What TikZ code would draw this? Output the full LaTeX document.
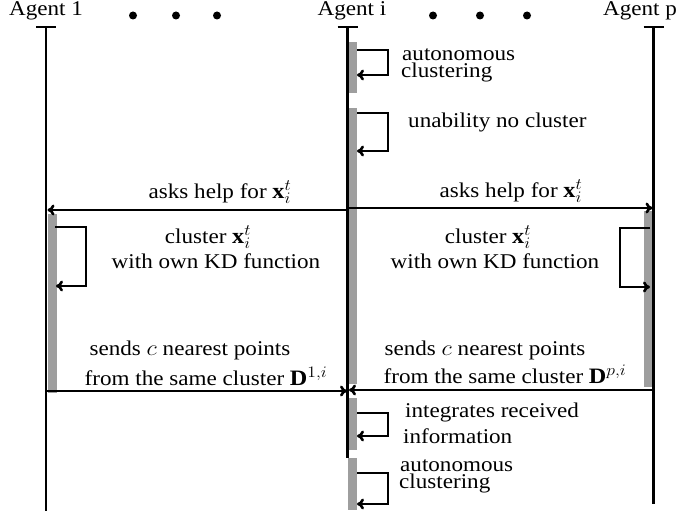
\RequirePackage{fix-cm}
\documentclass[tikz,border=0pt]{standalone}
\usepackage{fontspec}
\setmainfont{Liberation Serif}
\DeclareMathSizes{21}{22}{16}{12}
\usetikzlibrary{arrows.meta}
\definecolor{bargray}{RGB}{158,158,158}
\newcommand{\widetxt}[1]{\scalebox{1.1}[1]{#1}}
\begin{document}
\begin{tikzpicture}[x=1pt,y=-1pt,
  lbl/.style={font=\fontsize{21}{21}\selectfont, inner sep=0pt},
  life/.style={line width=2.6pt},
  msg/.style={line width=2.6pt,-{To[length=7pt,width=11pt]}},
  selfloop/.style={line width=2.6pt,-{To[length=7pt,width=11pt]}},
  actbar/.style={fill=bargray, draw=none},
  dotnode/.style={circle,fill=black,inner sep=0pt,minimum size=8pt}]
\useasboundingbox (0,0) rectangle (679,516);

% activation bars
\fill[actbar] (47.5,214) rectangle (57,393);
\fill[actbar] (644,211) rectangle (652,387);
\fill[actbar] (349,42) rectangle (357,93);
\fill[actbar] (349,108) rectangle (357,384);
\fill[actbar] (349,398) rectangle (357,450);
\fill[actbar] (348,458) rectangle (357,510);

% headers
\node[lbl, anchor=base] (h1) at (46,16) {\widetxt{Agent 1}};
\node[lbl, anchor=base] (hi) at (352,16) {\widetxt{Agent i}};
\node[lbl, anchor=base] (hp) at (640,16) {\widetxt{Agent p}};
\foreach \x [count=\k] in {133,176,217,433,480,527}
  \node[dotnode] (d\k) at (\x,15.5) {};

% lifelines
\coordinate (a1t) at (46,27);   \coordinate (a1b) at (46,511);
\coordinate (ait) at (347.5,27); \coordinate (aib) at (347.5,458);
\coordinate (apt) at (653.5,27); \coordinate (apb) at (653.5,504);
\draw[life] (a1t) -- (a1b);
\draw[life] (ait) -- (aib);
\draw[life] (apt) -- (apb);
\draw[life] ([xshift=-10pt]a1t) -- ([xshift=10pt]a1t);
\draw[life] ([xshift=-10pt]ait) -- ([xshift=10pt]ait);
\draw[life] ([xshift=-10pt]apt) -- ([xshift=10pt]apt);

% self loops on agent i
\coordinate (l1a) at (357,50);  \coordinate (l1b) at (357,75);
\draw[selfloop] (l1a) -| (388,75) -- (l1b);
\coordinate (l2a) at (357,113); \coordinate (l2b) at (357,151);
\draw[selfloop] (l2a) -| (388,151) -- (l2b);
\coordinate (l3a) at (357,413); \coordinate (l3b) at (357,436);
\draw[selfloop] (l3a) -| (388,436) -- (l3b);
\coordinate (l4a) at (357,473); \coordinate (l4b) at (357,504);
\draw[selfloop] (l4a) -| (388,504) -- (l4b);
% self loop agent 1
\coordinate (l5a) at (55,227); \coordinate (l5b) at (56,286);
\draw[selfloop] (l5a) -| (86,286) -- (l5b);
% self loop agent p
\coordinate (l6a) at (650,228); \coordinate (l6b) at (650,287);
\draw[selfloop] (l6a) -| (620,287) -- (l6b);

% messages
\coordinate (askL0) at (348,210); \coordinate (askL1) at (47.5,210);
\draw[msg] (askL0) -- (askL1);
\coordinate (askR0) at (349,208); \coordinate (askR1) at (652.5,208);
\draw[msg] (askR0) -- (askR1);
\coordinate (sndL0) at (46,391); \coordinate (sndL1) at (347,391);
\draw[msg] (sndL0) -- (sndL1);
\coordinate (sndR0) at (653,390); \coordinate (sndR1) at (349,390);
\draw[msg] (sndR0) -- (sndR1);

% labels
\node[lbl, anchor=base west] (t1a) at (402,61) {\widetxt{autonomous}};
\node[lbl, anchor=base west] (t1b) at (401,78) {\widetxt{clustering}};
\node[lbl, anchor=base west] (t2) at (408,127) {\widetxt{unability no cluster}};
\node[lbl, anchor=base] (t3) at (220,198) {\widetxt{asks help for $\mathbf{x}_i^t$}};
\node[lbl, anchor=base] (t4) at (511,197) {\widetxt{asks help for $\mathbf{x}_i^t$}};
\node[lbl, anchor=base] (t5a) at (208,243) {\widetxt{cluster $\mathbf{x}_i^t$}};
\node[lbl, anchor=base] (t5b) at (216,268) {\widetxt{with own KD function}};
\node[lbl, anchor=base] (t6a) at (488,243) {\widetxt{cluster $\mathbf{x}_i^t$}};
\node[lbl, anchor=base] (t6b) at (495,268) {\widetxt{with own KD function}};
\node[lbl, anchor=base] (t7a) at (190,355) {\widetxt{sends $c$ nearest points}};
\node[lbl, anchor=base] (t7b) at (206,385) {\widetxt{from the same cluster $\mathbf{D}^{1,i}$}};
\node[lbl, anchor=base] (t8a) at (485,355) {\widetxt{sends $c$ nearest points}};
\node[lbl, anchor=base] (t8b) at (505,383) {\widetxt{from the same cluster $\mathbf{D}^{p,i}$}};
\node[lbl, anchor=base west] (t9a) at (405,417) {\widetxt{integrates received}};
\node[lbl, anchor=base west] (t9b) at (403,443) {\widetxt{information}};
\node[lbl, anchor=base west] (t10a) at (400,471) {\widetxt{autonomous}};
\node[lbl, anchor=base west] (t10b) at (399,488) {\widetxt{clustering}};
\end{tikzpicture}
\end{document}
